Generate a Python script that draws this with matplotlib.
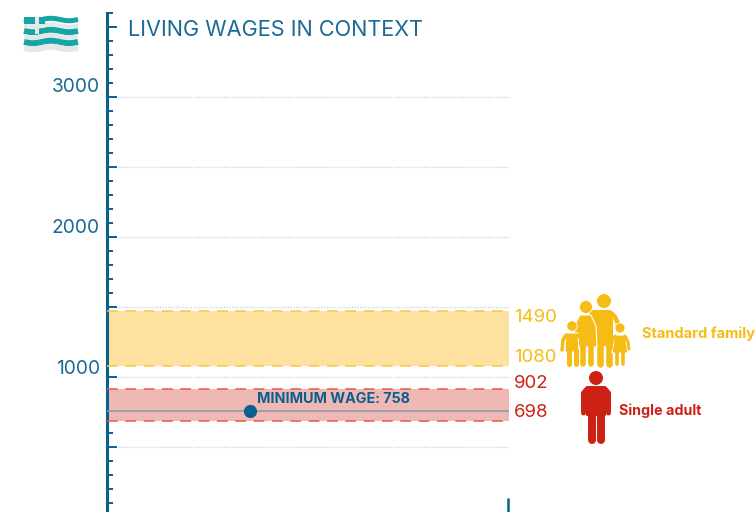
#!/usr/bin/env python
import numpy as np
import matplotlib
matplotlib.use('Agg')
import matplotlib.pyplot as plt
from matplotlib.patches import Circle, Polygon, Rectangle

plt.rcParams['font.family'] = ['Inter', 'DejaVu Sans']

BLUE = '#1a6a94'
DARK = '#0b5f8e'
YEL = '#f7bb16'
RED = '#cc2114'
TEAL = '#14a5a5'
PALE = '#e6e7e7'

title = 'LIVING WAGES IN CONTEXT'
major_ticks = [500, 1000, 1500, 2000, 2500, 3000, 3500]
minor_ticks = [100, 200, 300, 400, 600, 700, 800, 900, 1100, 1200, 1300, 1400,
               1600, 1700, 1800, 1900, 2100, 2200, 2300, 2400, 2600, 2700, 2800,
               2900, 3100, 3200, 3300, 3400, 3600]
grid_vals = [500, 1000, 1500, 2000, 2500, 3000]
tick_labels = [1000, 2000, 3000]
# band edges as drawn; the printed labels are separate
family_band = [1080, 1475]
single_band = [685, 913]
family_labels = [1490, 1080]
single_labels = [902, 698]
min_wage = 758
min_wage_pos = 0.355


def limb(ov, pts, w, col, z=5):
    # w is in pixels, 0.72 pt per pixel at dpi 100
    xs, ys = zip(*pts)
    ov.plot(xs, ys, color=col, lw=w * 0.72, solid_capstyle='round', solid_joinstyle='round', zorder=z)


def body(ov, pts, col, z=5, edge=None):
    ov.add_patch(Polygon(pts, closed=True, fc=col, ec=edge if edge else col, lw=0.8 if edge else 1.5,
                         joinstyle='round', zorder=z))


fig = plt.figure(figsize=(7.56, 5.12), dpi=100)
ax = fig.add_axes([107 / 756, 0, (509 - 107) / 756, (512 - 13) / 512])
ax.set_xlim(0, 1)
ax.set_ylim(36, 3582)

for s in ['top', 'right', 'bottom']:
    ax.spines[s].set_visible(False)
ax.spines['left'].set_color(DARK)
ax.spines['left'].set_linewidth(2.2)
ax.set_xticks([])
ax.set_yticks(major_ticks)
ax.set_yticks(minor_ticks, minor=True)
ax.set_yticklabels([])
ax.tick_params(axis='y', which='major', direction='in', length=7.5, width=1.4, color=DARK)
ax.tick_params(axis='y', which='minor', direction='in', length=4.2, width=1.4, color=DARK)

ax.hlines(grid_vals, 0.02, 1, color='#bcdcf0', lw=1.0, linestyle=(0, (1, 1)), zorder=1)

ax.axhspan(family_band[0], family_band[1], color='#fce29e', lw=0, zorder=2)
ax.axhspan(single_band[0], single_band[1], color='#efb8b4', lw=0, zorder=2)
for v in family_band:
    ax.axhline(v, color='#f9c545', lw=1.1, linestyle=(0, (7, 5)), zorder=3)
for v in single_band:
    ax.axhline(v, color='#e8574a', lw=1.1, linestyle=(0, (7, 5)), zorder=3)
ax.axhline(min_wage, color='#8d9bab', lw=1.2, zorder=3)
ax.plot([min_wage_pos], [min_wage], 'o', color=DARK, ms=9.5, mew=0, zorder=4, clip_on=False)
ax.vlines(0.9975, 36, 135, color=DARK, lw=1.8, clip_on=False)

# overlay in pixel coordinates for text placed off the scale, the icons and the flag
ov = fig.add_axes([0, 0, 1, 1])
ov.set_xlim(0, 756)
ov.set_ylim(512, 0)
ov.axis('off')
ov.patch.set_alpha(0)

ov.text(128, 29.5, title, color=BLUE, fontsize=15.6, va='center', ha='left')
for v, y in zip(tick_labels, [369, 228, 87]):
    ov.text(100, y, str(v), color=BLUE, fontsize=13.8, va='center', ha='right')
ov.text(257, 399, 'MINIMUM WAGE: %d' % min_wage, color=DARK, fontsize=10.3, fontweight='bold', va='center', ha='left', zorder=6)
for v, y in zip(family_labels, [318, 358]):
    ov.text(514, y, str(v), color=YEL, fontsize=13.4, va='center', ha='left')
for v, y in zip(single_labels, [384, 412.5]):
    ov.text(514, y, str(v), color=RED, fontsize=13.4, va='center', ha='left')
ov.text(642, 334, 'Standard family', color=YEL, fontsize=10.5, fontweight='bold', va='center', ha='left')
ov.text(619, 411, 'Single adult', color=RED, fontsize=10.3, fontweight='bold', va='center', ha='left')

# single adult
ov.add_patch(Circle((596, 378), 7, fc=RED, ec='none', zorder=5))
body(ov, [(587, 387), (605, 387), (605, 415), (587, 415)], RED)
limb(ov, [(587, 389), (583.5, 393), (583.5, 413)], 5, RED)
limb(ov, [(605, 389), (608.5, 393), (608.5, 413)], 5, RED)
limb(ov, [(591.5, 410), (591.5, 440)], 8, RED)
limb(ov, [(600.5, 410), (600.5, 440)], 8, RED)

# family, back to front: father, mother, two children
ov.add_patch(Circle((604, 301), 7, fc=YEL, ec='none', zorder=5))
body(ov, [(590, 311), (610, 311), (612, 320), (612, 345), (596, 345)], YEL)
limb(ov, [(611, 313), (615, 317), (619, 326)], 4.5, YEL)
limb(ov, [(599.5, 340), (599.5, 363.5)], 6.5, YEL)
limb(ov, [(608.5, 340), (608.5, 363.5)], 6.5, YEL)

ov.add_patch(Circle((586, 307), 6.5, fc=YEL, ec='white', lw=0.6, zorder=6))
body(ov, [(580, 315), (591, 315), (596, 326), (597, 347), (576, 347), (574, 326)], YEL, 6, 'white')
limb(ov, [(582.5, 345), (582.5, 364)], 5.5, YEL, 6)
limb(ov, [(591, 345), (591, 364)], 5.5, YEL, 6)

ov.add_patch(Circle((572, 326), 5.2, fc=YEL, ec='white', lw=0.6, zorder=7))
body(ov, [(566, 333), (578, 333), (579, 352), (565, 352)], YEL, 7, 'white')
limb(ov, [(566, 335), (563, 340), (562, 350)], 3.5, YEL, 7)
limb(ov, [(578, 335), (581.5, 340), (582.5, 350)], 3.5, YEL, 7)
limb(ov, [(568.5, 350), (568.5, 364)], 5, YEL, 7)
limb(ov, [(575.5, 350), (575.5, 364)], 5, YEL, 7)

ov.add_patch(Circle((620, 328), 5, fc=YEL, ec='white', lw=0.6, zorder=7))
body(ov, [(615, 335), (625, 335), (628, 353), (612, 353)], YEL, 7, 'white')
limb(ov, [(615, 336), (612, 342), (611, 349)], 3, YEL, 7)
limb(ov, [(625, 336), (628, 342), (629, 349)], 3, YEL, 7)
limb(ov, [(617, 352), (617, 364)], 3.6, YEL, 7)
limb(ov, [(623, 352), (623, 364)], 3.6, YEL, 7)

# flag
xw = np.linspace(24, 78, 60)
for y0, c, w in [(19.5, TEAL, 5), (25.5, PALE, 4), (31, TEAL, 6), (36.5, PALE, 5),
                 (42, TEAL, 6), (48, PALE, 6)]:
    ov.plot(xw, y0 + 1.2 * np.sin((xw - 24) / 54 * 3 * np.pi), color=c, lw=w * 0.72,
            solid_capstyle='butt', zorder=3)
ov.add_patch(Rectangle((24, 17), 21, 11, fc=TEAL, ec='none', zorder=3.2))
ov.add_patch(Rectangle((24, 24), 21, 4, fc=PALE, ec='none', zorder=3.3))
ov.add_patch(Rectangle((35, 17), 4, 17, fc=PALE, ec='none', zorder=3.3))

fig.savefig('out.png', dpi=100)
